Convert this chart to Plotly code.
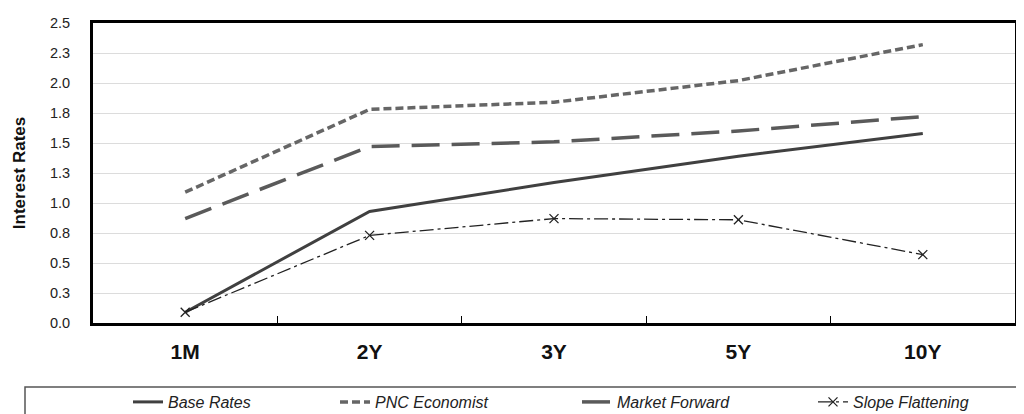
import plotly.graph_objects as go

categories = ["1M", "2Y", "3Y", "5Y", "10Y"]
base_rates = [0.09, 0.93, 1.17, 1.39, 1.58]
pnc_economist = [1.09, 1.78, 1.84, 2.02, 2.32]
market_forward = [0.87, 1.47, 1.51, 1.60, 1.72]
slope_flattening = [0.09, 0.73, 0.87, 0.86, 0.57]
y_ticks = [0, 0.25, 0.5, 0.75, 1.0, 1.25, 1.5, 1.75, 2.0, 2.25, 2.5]
y_tick_text = ["0.0", "0.3", "0.5", "0.8", "1.0", "1.3", "1.5", "1.8", "2.0", "2.3", "2.5"]

FONT = "Liberation Sans"

# page body has an 8px margin; figure is sized/offset to compensate
ML, MT, W, H = 85, 15, 1016, 406
PLOT_W = W - ML - 9
PLOT_H = H - MT - 91


def px_x(px_window):
    return (px_window - 8 - ML) / PLOT_W


def px_y(py_window):
    return (MT + PLOT_H - (py_window - 8)) / PLOT_H


fig = go.Figure()
fig.add_trace(go.Scatter(x=categories, y=base_rates, name="Base Rates", mode="lines",
                         line=dict(color="#404040", width=3, dash="solid"), legend="legend"))
fig.add_trace(go.Scatter(x=categories, y=pnc_economist, name="PNC Economist", mode="lines",
                         line=dict(color="#666666", width=3.5, dash="8px,4px"), legend="legend2"))
fig.add_trace(go.Scatter(x=categories, y=market_forward, name="Market Forward", mode="lines",
                         line=dict(color="#5a5a5a", width=3.5, dash="28px,12px"), legend="legend3"))
fig.add_trace(go.Scatter(x=categories, y=slope_flattening, name="Slope Flattening", mode="lines+markers",
                         line=dict(color="#222222", width=1.3, dash="14px,4px,3px,4px"),
                         marker=dict(symbol="x-thin", size=9, line=dict(color="#222222", width=1.3)),
                         legend="legend4"))

legend_common = dict(orientation="h", yanchor="middle", y=px_y(402), xanchor="left",
                     bgcolor="rgba(0,0,0,0)", borderwidth=0,
                     font=dict(family=FONT, size=16, color="#222222", style="italic"))
leg_text_x = [168, 375, 617, 853]

fig.update_layout(
    width=W, height=H,
    margin=dict(l=ML, r=9, t=MT, b=91, autoexpand=False),
    paper_bgcolor="white", plot_bgcolor="white",
    font=dict(family=FONT, size=14, color="#222222"),
    legend=dict(legend_common, x=px_x(leg_text_x[0] - 40)),
    legend2=dict(legend_common, x=px_x(leg_text_x[1] - 40)),
    legend3=dict(legend_common, x=px_x(leg_text_x[2] - 40)),
    legend4=dict(legend_common, x=px_x(leg_text_x[3] - 40)),
    showlegend=True,
    xaxis=dict(type="category", range=[-0.5, 4.5], showgrid=False,
               showline=True, linecolor="black", linewidth=3, mirror=True,
               ticks="inside", tickson="boundaries", ticklen=7, tickcolor="black", tickwidth=1,
               tickfont=dict(family=FONT, size=21, color="#111111", weight="bold"),
               ticklabelstandoff=8),
    yaxis=dict(range=[0, 2.5], tickvals=y_ticks, ticktext=y_tick_text,
               showgrid=True, gridcolor="#dcdcdc", gridwidth=1,
               showline=True, linecolor="black", linewidth=3, mirror=True,
               ticks="", zeroline=False, automargin=False,
               tickfont=dict(family=FONT, size=14.5, color="#222222"),
               ticklabelstandoff=17,
               title=dict(text="Interest Rates", standoff=20,
                          font=dict(family=FONT, size=17, color="#111111", weight="bold"))),
)

fig.add_shape(type="rect", xref="paper", yref="paper",
              x0=px_x(25), x1=px_x(1040), y0=px_y(430), y1=px_y(387),
              line=dict(color="#555555", width=1.5), fillcolor="rgba(0,0,0,0)", layer="below")

fig.write_html("out.html")
